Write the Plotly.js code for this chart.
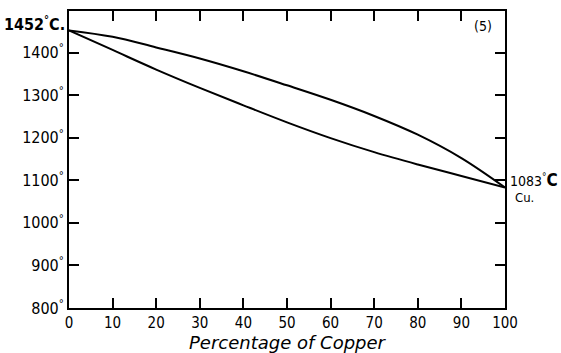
<!DOCTYPE html>
<html>
<head>
<meta charset="utf-8">
<script src="https://cdn.plot.ly/plotly-3.0.1.min.js"></script>
<style>html,body{margin:0;padding:0;background:#fff;}#chart{width:561px;height:353px;}</style>
</head>
<body>
<div id="chart"></div>
<script>
// Percentage of copper (x)
const copperPct = [0, 10, 20, 30, 40, 50, 60, 70, 80, 90, 100];
// Liquidus (upper curve), degrees C
const liquidus = [1452, 1437, 1412, 1386, 1356, 1323, 1289, 1251, 1207, 1152, 1083];
// Solidus (lower curve), degrees C
const solidus = [1452, 1406, 1360, 1317, 1276, 1236, 1199, 1166, 1137, 1110, 1083];
// Tick labels
const xTickVals = [0, 10, 20, 30, 40, 50, 60, 70, 80, 90, 100];
const xTickText = ["0", "10", "20", "30", "40", "50", "60", "70", "80", "90", "100"];
const yTickVals = [800, 900, 1000, 1100, 1200, 1300, 1400];
const yTickText = ["800<sup>°</sup>", "900<sup>°</sup>", "1000<sup>°</sup>", "1100<sup>°</sup>", "1200<sup>°</sup>", "1300<sup>°</sup>", "1400<sup>°</sup>"];
// Melting points
const meltNi = 1452;
const meltCu = 1083;

const font = "DejaVu Sans Condensed, DejaVu Sans, sans-serif";

const traces = [
  {x: copperPct, y: liquidus, mode: "lines", line: {color: "black", width: 2, shape: "spline", smoothing: 1}},
  {x: copperPct, y: solidus, mode: "lines", line: {color: "black", width: 2, shape: "spline", smoothing: 1}}
];

const layout = {
  width: 561, height: 353,
  margin: {l: 69, r: 56, t: 11, b: 45},
  showlegend: false,
  xaxis: {
    range: [0, 100], tickvals: xTickVals, ticktext: xTickText,
    ticks: "inside", ticklen: 10, tickwidth: 2, tickcolor: "black",
    showline: true, linewidth: 2, linecolor: "black", mirror: "allticks",
    showgrid: false, zeroline: false,
    tickfont: {family: font, size: 15, color: "black"},
    title: {text: "<i>Percentage of Copper</i>", font: {family: "DejaVu Sans, sans-serif", size: 18, color: "black"}, standoff: 2}
  },
  yaxis: {
    range: [800, 1497.5], tickvals: yTickVals, ticktext: yTickText,
    ticks: "inside", ticklen: 10, tickwidth: 2, tickcolor: "black",
    showline: true, linewidth: 2, linecolor: "black", mirror: "allticks",
    showgrid: false, zeroline: false,
    tickfont: {family: font, size: 16, color: "black"}
  },
  annotations: [
    {xref: "paper", yref: "y", x: 0, y: meltNi, xanchor: "right", yanchor: "middle", xshift: -2, yshift: 7,
     text: "<b>" + meltNi + "<sup>°</sup>C.</b>", showarrow: false, font: {family: font, size: 16, color: "black"}},
    {xref: "paper", yref: "y", x: 1, y: meltCu, xanchor: "left", yanchor: "middle", xshift: 3, yshift: 8,
     text: meltCu + "<sup>°</sup><b><span style='font-size:17px'>C</span></b>", showarrow: false, font: {family: font, size: 14, color: "black"}},
    {xref: "paper", yref: "y", x: 1, y: meltCu, xanchor: "left", yanchor: "middle", xshift: 8, yshift: -10,
     text: "Cu.", showarrow: false, font: {family: font, size: 13, color: "black"}},
    {xref: "paper", yref: "paper", x: 0.975, y: 0.95, xanchor: "right", yanchor: "middle",
     text: "(5)", showarrow: false, font: {family: font, size: 14, color: "black"}}
  ]
};

Plotly.newPlot("chart", traces, layout, {displayModeBar: false});
</script>
</body>
</html>
